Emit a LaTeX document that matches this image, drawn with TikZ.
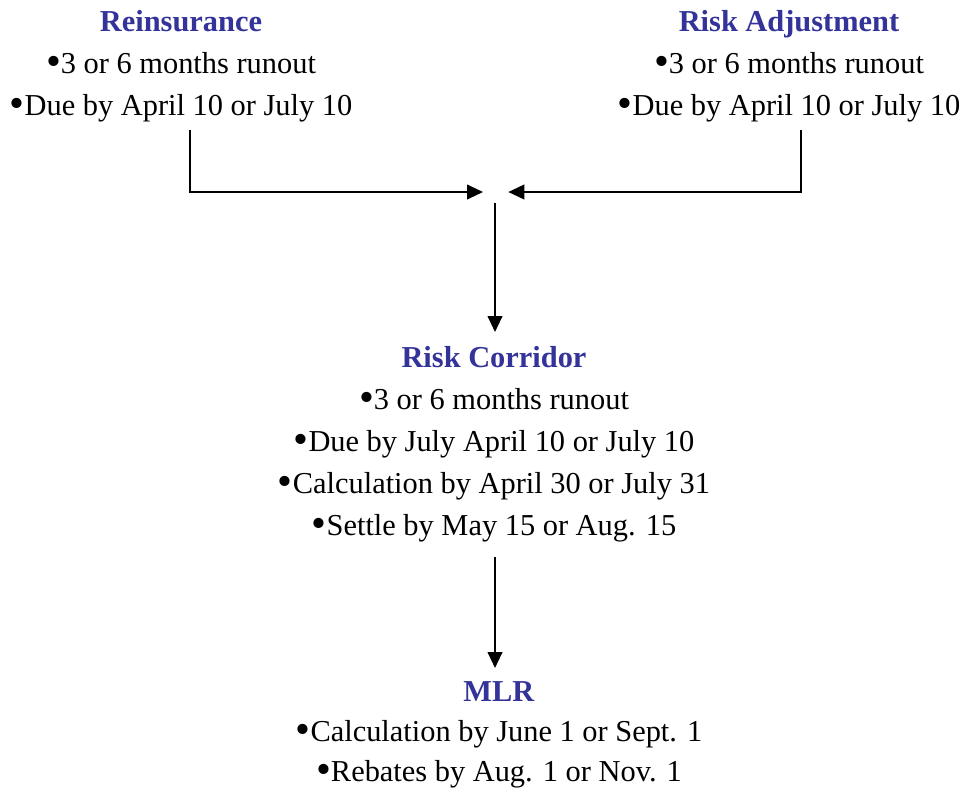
\documentclass[tikz,border=0pt]{standalone}
\usepackage{fontspec}
\setmainfont{Liberation Serif}
\usetikzlibrary{arrows.meta,positioning}
\definecolor{titleblue}{RGB}{51,51,153}
\newcommand{\hdtext}[1]{\textcolor{titleblue}{\textbf{#1}}}
\newcommand{\bul}{\raisebox{-1.5pt}{\scalebox{1.4}{•}}}

\begin{document}
\begin{tikzpicture}[x=0.75pt, y=-0.75pt,
  every node/.style={font=\fontsize{22.8}{31.5}\selectfont},
  blk/.style={align=center, inner sep=0pt, anchor=north},
  flow/.style={-{Triangle[length=12pt,width=11pt]}, line width=1.5pt}]
\useasboundingbox (0,0) rectangle (967,790);
\node[blk] (reins) at (181,10) {\hdtext{Reinsurance}\\\bul3 or 6 months runout\\\bul Due by April 10 or July 10};
\node[blk] (riskadj) at (789,10) {\hdtext{Risk Adjustment}\\\bul3 or 6 months runout\\\bul Due by April 10 or July 10};
\node[blk] (corridor) at (494,346) {\hdtext{Risk Corridor}\\\bul3 or 6 months runout\\\bul Due by July April 10 or July 10\\\bul Calculation by April 30 or July 31\\\bul Settle by May 15 or Aug. 15};
\node[blk, font=\fontsize{22.8}{30}\selectfont] (mlr) at (499,681) {\hdtext{MLR}\\\bul Calculation by June 1 or Sept. 1\\\bul Rebates by Aug. 1 or Nov. 1};
\coordinate (hub) at (495,192);
% converge on the hub
\draw[flow, shorten <=6pt, shorten >=9pt] ([xshift=6.75pt]reins.south) |- (hub);
\draw[flow, shorten <=6pt, shorten >=10pt] ([xshift=9pt]riskadj.south) |- (hub);
\draw[flow, shorten <=8pt, shorten >=10.5pt] (hub) -- (hub |- corridor.north);
\draw[flow, shorten <=11pt, shorten >=9.75pt] (hub |- corridor.south) -- (hub |- mlr.north);
\end{tikzpicture}
\end{document}
